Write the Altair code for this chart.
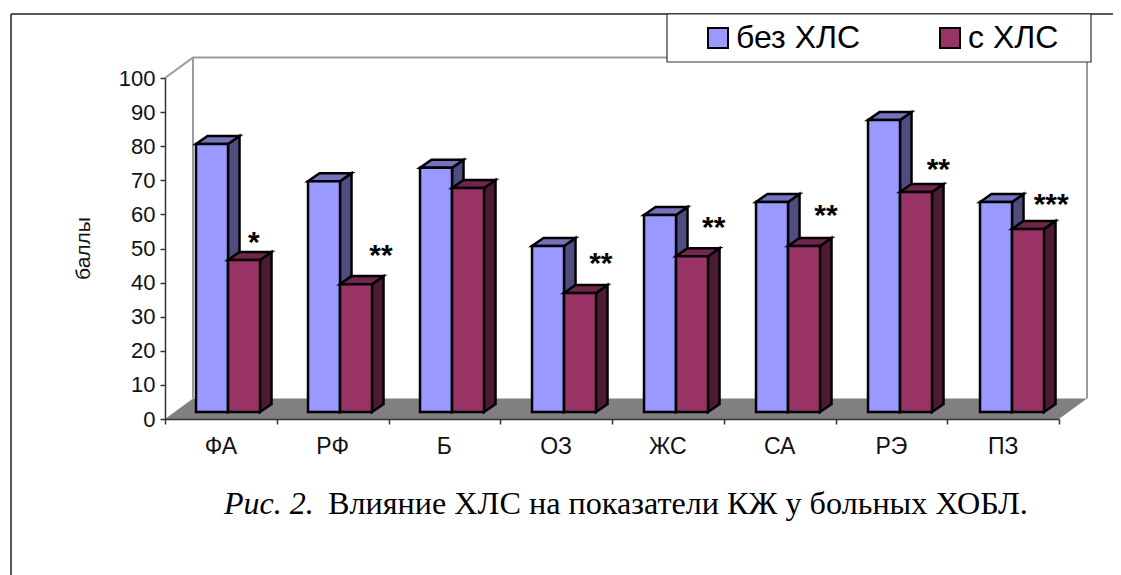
import altair as alt
import pandas as pd

# --- data ---
categories = ["ФА", "РФ", "Б", "ОЗ", "ЖС", "СА", "РЭ", "ПЗ"]
without_hls = [78.6, 67.7, 71.6, 48.7, 57.8, 61.6, 85.6, 61.6]
with_hls = [44.6, 37.5, 65.7, 34.9, 45.7, 48.7, 64.5, 53.7]
stars = ["*", "**", "", "**", "**", "**", "**", "***"]
star_levels = [52.5, 48.6, 0, 46.3, 56.9, 60.4, 73.9, 63.6]
star_cols = [0.796, 1.933, 0, 3.90, 4.91, 5.915, 6.92, 7.93]
series_names = ["без ХЛС", "с ХЛС"]
y_ticks = list(range(0, 101, 10))
x_ticks = list(range(0, 9))
axis_title = "баллы"
caption_a = "Рис. 2."
caption_b = "Влияние ХЛС на показатели КЖ у больных ХОБЛ."

# --- geometry in scale units ---
BASE = 2.05      # front plane of the bars above the axis zero
BAR_W = 0.2864
BAR_OFF = 0.2775
PITCH = 1.00224
DX = 0.103
DY = 2.35
WALL_DX = 0.2506
WALL_DY = 6.0

W, H = 894, 341
FONT = "Liberation Sans"
SERIF = "Liberation Serif"
BLUE, MAROON = "#9999FF", "#993366"
colors = {
    series_names[0]: (BLUE, "#4D4D80", "#7373BF"),
    series_names[1]: (MAROON, "#4D1A33", "#73264D"),
}

front, side, top = [], [], []
for s, (name, vals) in enumerate(zip(series_names, [without_hls, with_hls])):
    for i, v in enumerate(vals):
        x0 = i * PITCH + BAR_OFF + s * BAR_W
        x1 = x0 + BAR_W
        b, t = BASE, BASE + v
        key = f"{name}-{i}"
        front.append(dict(series=name, x=x0, x2=x1, y=b, y2=t))
        side += [
            dict(series=name, id=key, x=x1, y=b, y2=t),
            dict(series=name, id=key, x=x1 + DX, y=b + DY, y2=t + DY),
        ]
        top += [
            dict(series=name, id=key, x=x0, y=t, y2=t),
            dict(series=name, id=key, x=x0 + DX, y=t, y2=t + DY),
            dict(series=name, id=key, x=x1, y=t, y2=t + DY),
            dict(series=name, id=key, x=x1 + DX, y=t + DY, y2=t + DY),
        ]
front, side, top = pd.DataFrame(front), pd.DataFrame(side), pd.DataFrame(top)

x_enc = alt.X("x:Q", scale=alt.Scale(domain=[0, 8], nice=False, zero=False), title=None,
              axis=alt.Axis(values=x_ticks, labels=False, tickSize=5, tickColor="#333333",
                            tickWidth=1.5, domainColor="#333333", domainWidth=1.5,
                            grid=False, zindex=1))
y_enc = alt.Y("y:Q", scale=alt.Scale(domain=[0, 100], nice=False), title=axis_title,
              axis=alt.Axis(values=y_ticks, tickSize=5, tickColor="#333333", tickWidth=1.5,
                            domainColor="#333333", domainWidth=1.5, grid=False,
                            labelFont=FONT, labelFontSize=22, labelColor="#111111",
                            labelPadding=5, labelOverlap=False, titleFont=FONT, titleFontSize=21,
                            titleFontWeight="normal", titleColor="#111111",
                            titleX=-72, titleY=170, zindex=1))

floor = alt.Chart(pd.DataFrame([
    dict(x=0, y=0, y2=0),
    dict(x=WALL_DX, y=0, y2=WALL_DY),
    dict(x=8, y=0, y2=WALL_DY),
    dict(x=8 + WALL_DX, y=WALL_DY, y2=WALL_DY),
])).mark_area(color="#808080").encode(x=x_enc, y=y_enc, y2="y2:Q")

wall_pts = pd.DataFrame([
    dict(x=0, y=100),
    dict(x=WALL_DX, y=100 + WALL_DY),
    dict(x=8 + WALL_DX, y=100 + WALL_DY),
    dict(x=8 + WALL_DX, y=WALL_DY),
])
wall = alt.Chart(wall_pts).mark_line(color="#9A9A9A", strokeWidth=2).encode(
    x=x_enc, y=y_enc, order=alt.Order("x:Q"))
wall_left = alt.Chart(pd.DataFrame([dict(x=WALL_DX, y=WALL_DY, y2=100 + WALL_DY)])).mark_rule(
    color="#9A9A9A", strokeWidth=2).encode(x=x_enc, y=y_enc, y2="y2:Q")

layers = [floor, wall, wall_left]
for name in series_names:
    c_front, c_side, c_top = colors[name]
    layers.append(alt.Chart(side[side.series == name]).mark_area(
        color=c_side, stroke="black", strokeWidth=2.5).encode(x=x_enc, y=y_enc, y2="y2:Q", detail="id:N"))
    layers.append(alt.Chart(top[top.series == name]).mark_area(
        color=c_top, stroke="black", strokeWidth=2.5).encode(x=x_enc, y=y_enc, y2="y2:Q", detail="id:N"))
    layers.append(alt.Chart(front[front.series == name]).mark_rect(
        stroke="black", strokeWidth=2.5).encode(
        x=x_enc, x2="x2:Q", y=y_enc, y2="y2:Q",
        fill=alt.Fill("series:N",
                      scale=alt.Scale(domain=series_names, range=[BLUE, MAROON]),
                      legend=alt.Legend(orient="none", legendX=537, legendY=-56, title=None,
                                        direction="horizontal", symbolType="square",
                                        symbolSize=400, symbolStrokeColor="black",
                                        symbolStrokeWidth=2, labelFont=FONT, labelFontSize=32,
                                        labelColor="black", labelOffset=2, columnPadding=73,
                                        padding=0, labelLimit=300))))

star_df = pd.DataFrame(dict(x=star_cols, y=star_levels, t=stars))
star_df = star_df[star_df.t != ""]
layers.append(alt.Chart(star_df).mark_text(
    font=FONT, fontSize=30, fontWeight="bold", color="black", baseline="alphabetic", dy=12
).encode(x=x_enc, y=y_enc, text="t:N"))

cat_df = pd.DataFrame(dict(x=[i + 0.5 for i in range(8)], t=categories))
layers.append(alt.Chart(cat_df).mark_text(
    font=FONT, fontSize=23, color="#111111", baseline="middle"
).encode(x=x_enc, y=alt.value(369), text="t:N"))

# page frame and legend box
layers.append(alt.Chart(pd.DataFrame({"k": [0]})).mark_rule(color="#222222", strokeWidth=1.5).encode(
    x=alt.value(-154), x2=alt.value(956), y=alt.value(-64)))
layers.append(alt.Chart(pd.DataFrame({"k": [0]})).mark_rule(color="#222222", strokeWidth=1.5).encode(
    x=alt.value(-154), y=alt.value(-64), y2=alt.value(497)))
layers.append(alt.Chart(pd.DataFrame({"k": [0]})).mark_rect(
    fill="white", stroke="#333333", strokeWidth=1.2).encode(
    x=alt.value(502), x2=alt.value(926), y=alt.value(-64), y2=alt.value(-16)))

# caption
layers.append(alt.Chart(pd.DataFrame({"t": [caption_a]})).mark_text(
    font=SERIF, fontSize=32, fontStyle="italic", color="black", align="left", baseline="alphabetic"
).encode(x=alt.value(59), y=alt.value(436), text="t:N"))
layers.append(alt.Chart(pd.DataFrame({"t": [caption_b]})).mark_text(
    font=SERIF, fontSize=32.2, color="black", align="left", baseline="alphabetic"
).encode(x=alt.value(163), y=alt.value(436), text="t:N"))

chart = alt.layer(*layers).properties(
    width=W, height=H,
    padding={"left": 157, "top": 70, "right": 54, "bottom": 156},
    autosize=alt.AutoSizeParams(type="none"),
    background="white",
).configure_view(stroke=None)

chart.save("out.html", embed_options={"renderer": "svg", "actions": False})
